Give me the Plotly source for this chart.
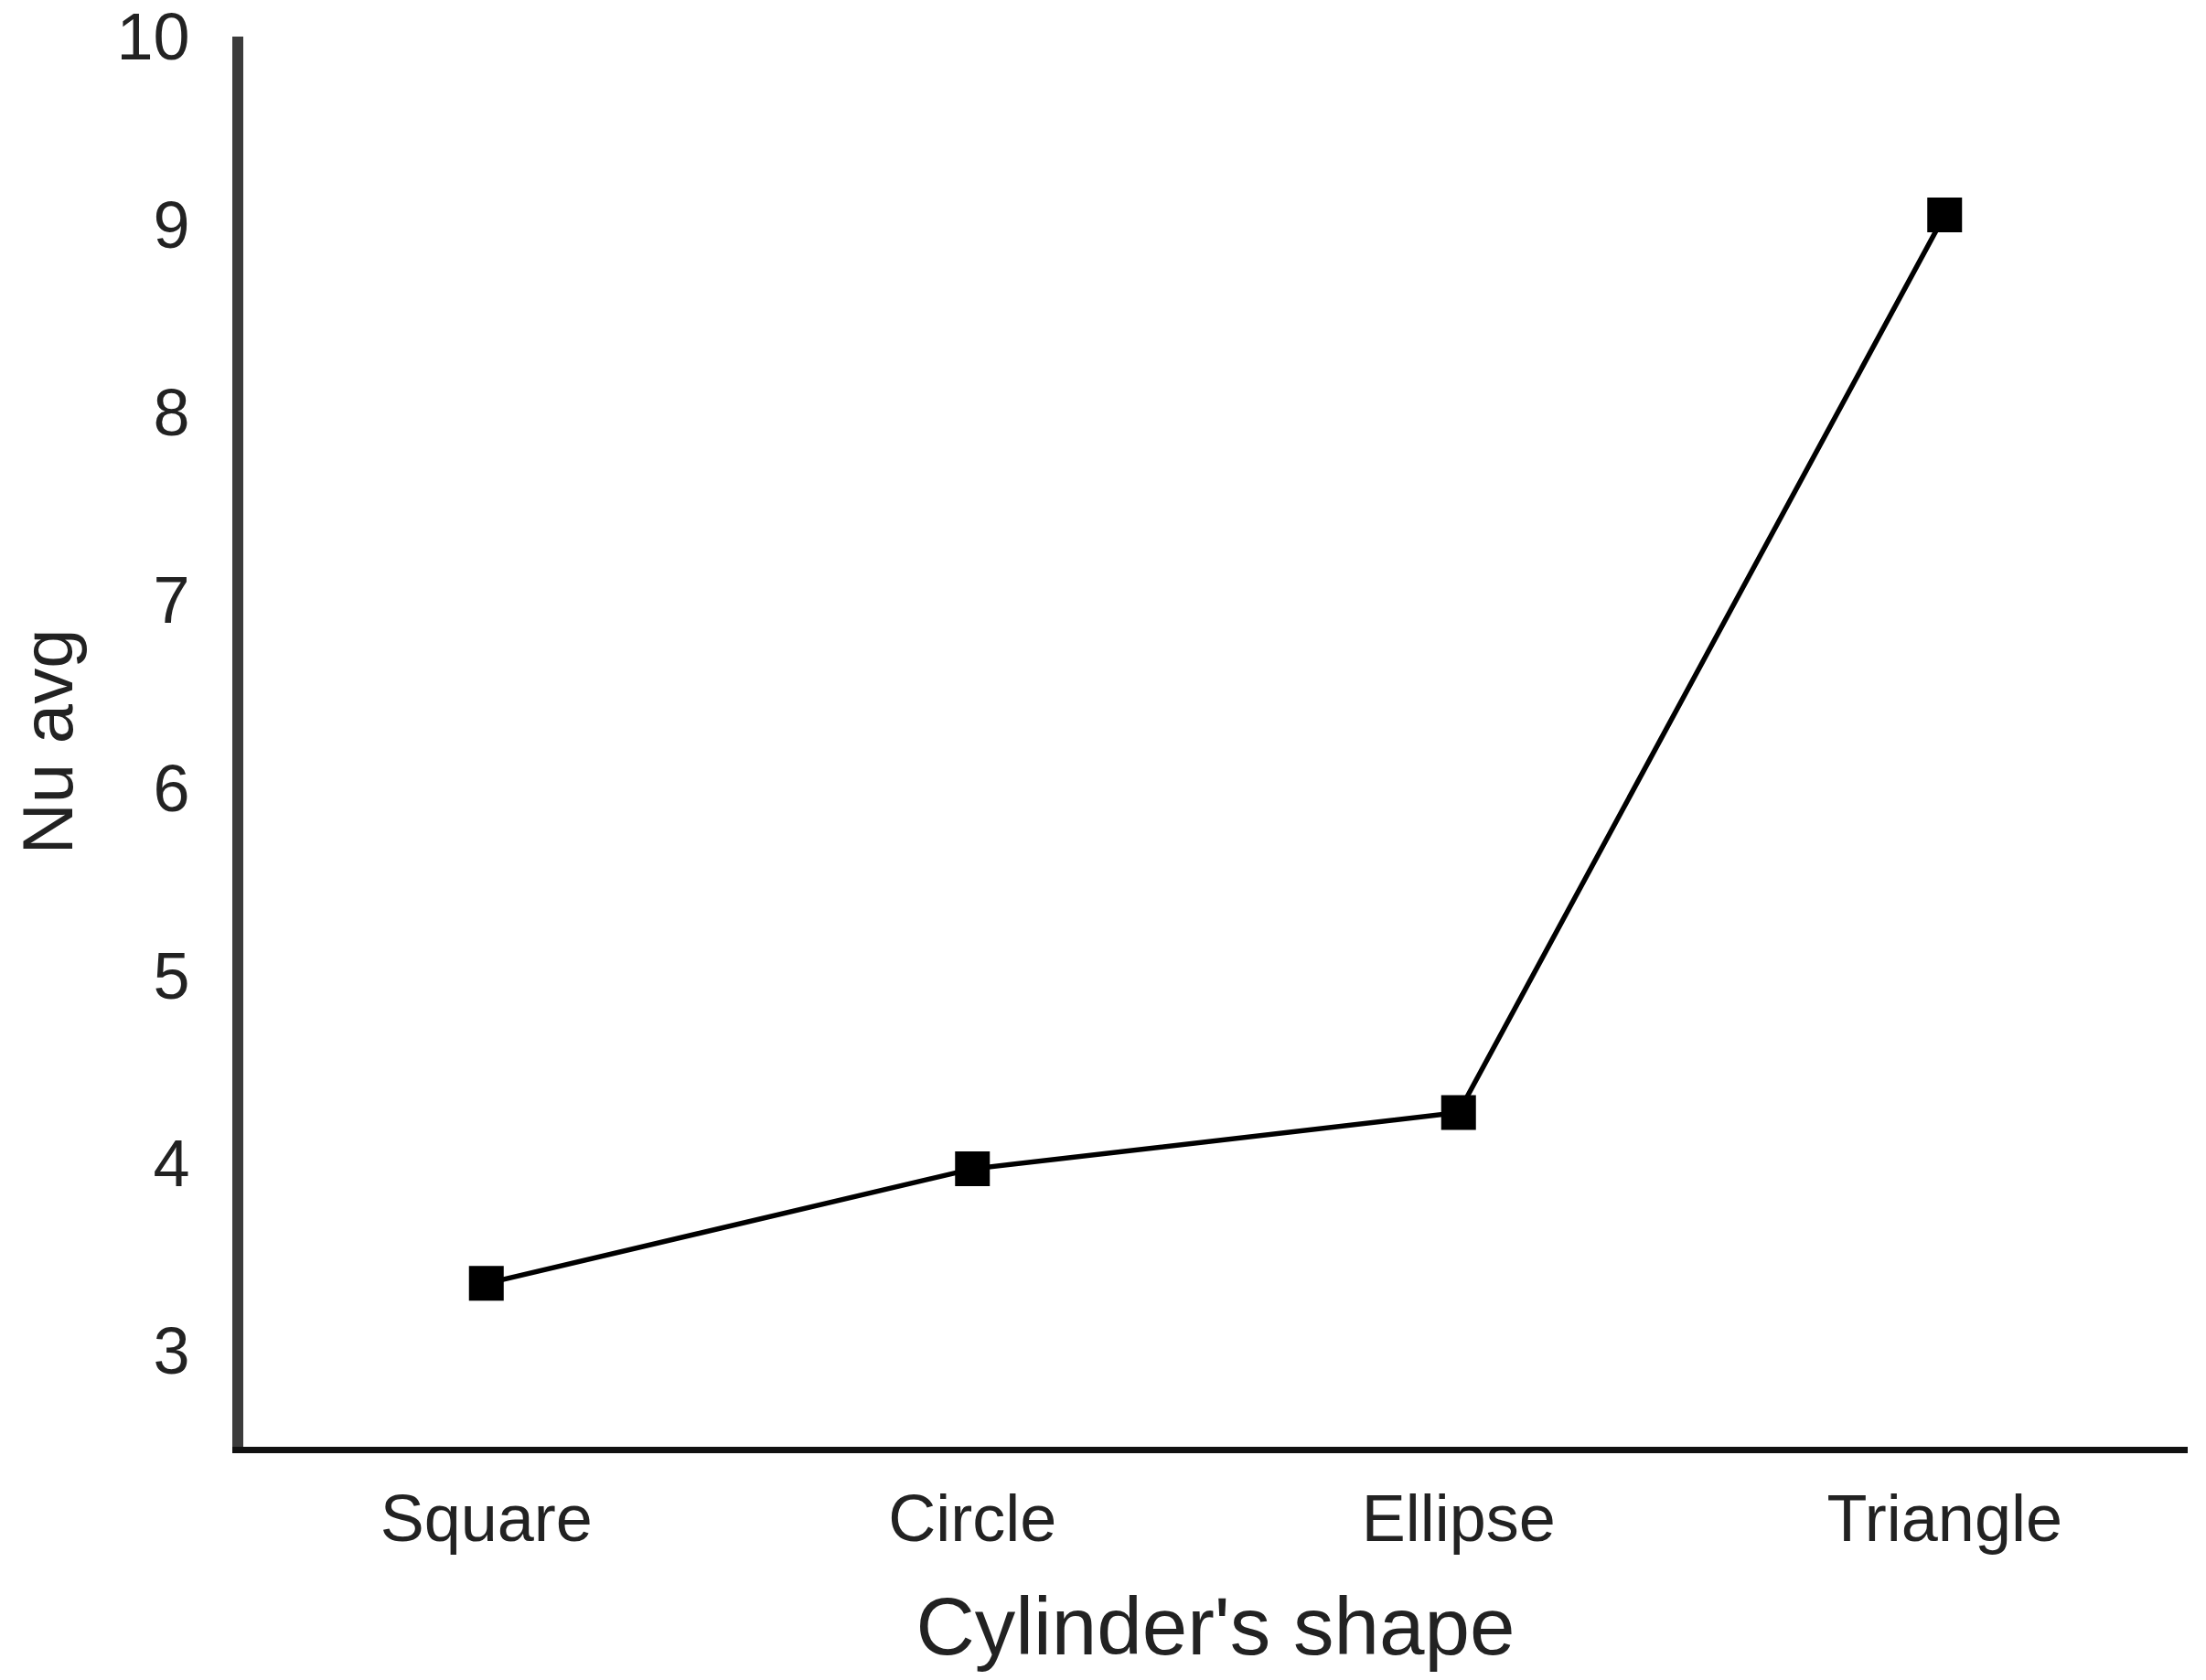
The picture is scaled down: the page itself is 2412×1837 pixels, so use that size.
"""Average Nusselt number per cylinder shape - line chart with square markers."""

import plotly.graph_objects as go

shapes = ["Square", "Circle", "Ellipse", "Triangle"]
nu_avg = [3.36, 3.97, 4.27, 9.05]
y_ticks = [3, 4, 5, 6, 7, 8, 9, 10]

TICK_FONT = dict(family="Liberation Sans, Arial, sans-serif", size=72, color="#222222")
TITLE_FONT = dict(family="Liberation Sans, Arial, sans-serif", size=89, color="#222222")

fig = go.Figure(
    go.Scatter(
        x=shapes,
        y=nu_avg,
        mode="lines+markers",
        line=dict(color="black", width=5.5),
        marker=dict(symbol="square", size=38, color="black"),
        showlegend=False,
    )
)

fig.update_layout(
    width=2412,
    height=1837,
    margin=dict(l=258, r=28, t=32, b=263),
    paper_bgcolor="white",
    plot_bgcolor="white",
)

fig.update_xaxes(
    type="category",
    range=[-0.5, 3.5],
    automargin=False,
    showline=True,
    linecolor="#111111",
    linewidth=7,
    showgrid=False,
    zeroline=False,
    ticks="",
    tickfont=TICK_FONT,
    ticklabelstandoff=10,
    title=dict(text="Cylinder's shape", font=TITLE_FONT, standoff=50),
)

fig.update_yaxes(
    range=[2.49, 10],
    tickvals=y_ticks,
    automargin=False,
    showline=True,
    linecolor="#3c3c3c",
    linewidth=12,
    showgrid=False,
    zeroline=False,
    ticks="",
    tickfont=TICK_FONT,
    ticklabelstandoff=32,
    ticklabeloverflow="allow",
    title=dict(text="Nu avg", font=dict(TITLE_FONT, size=78), standoff=63),
)

fig.write_html("out.html")
